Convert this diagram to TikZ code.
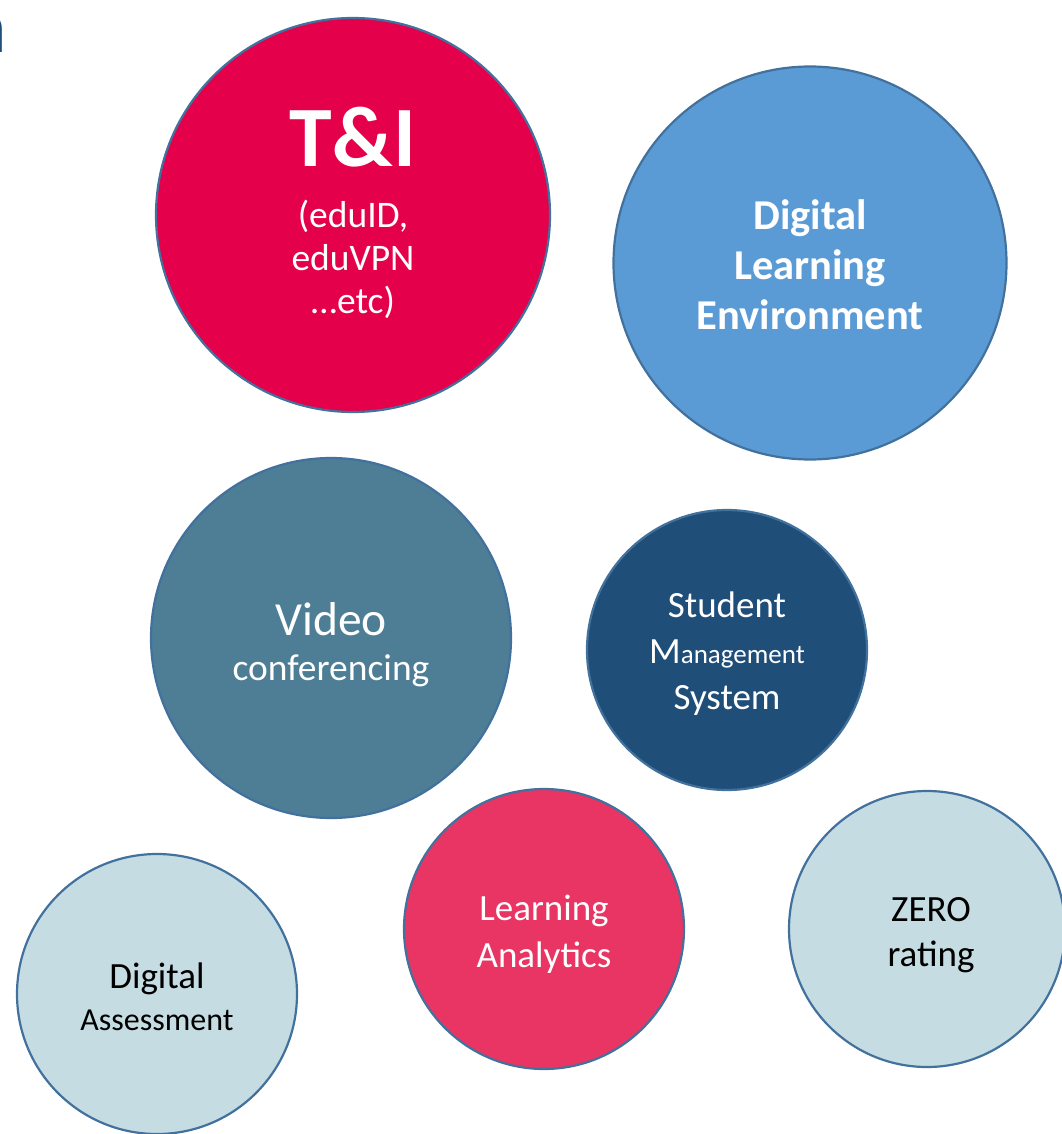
\documentclass[tikz,border=0pt]{standalone}
\usepackage{fontspec}
\setmainfont{Carlito}
\definecolor{tiRed}{HTML}{E4004B}
\definecolor{dleBlue}{HTML}{5B9BD5}
\definecolor{vidTeal}{HTML}{4D7E96}
\definecolor{smsBlue}{HTML}{1F4E79}
\definecolor{laPink}{HTML}{E83563}
\definecolor{lightBlue}{HTML}{C6DCE3}
\definecolor{edge}{HTML}{41719C}
\definecolor{titleBlue}{HTML}{1F4E79}
\newcommand{\fsb}[2]{\fontsize{#1}{#2}\selectfont}
\begin{document}
\begin{tikzpicture}[x=1pt,y=-1pt,
  bub/.style={circle, draw=edge, line width=2.2pt, inner sep=0pt, align=center},
  wtxt/.style={text=white, inner sep=0pt, align=center},
  btxt/.style={text=black, inner sep=0pt, align=center}]
\useasboundingbox (0,0) rectangle (1061,1134);
% clipped title letter
\node[anchor=base east, inner sep=0pt, text=titleBlue, font=\fsb{76}{76}\bfseries] (title) at (6,53) {n};
% circles
\node[bub, fill=tiRed, minimum size=394pt] (ti) at (353,215) {};
\node[bub, fill=dleBlue, minimum size=393pt] (dle) at (810,263) {};
\node[bub, fill=vidTeal, minimum size=360pt] (vid) at (331,638) {};
\node[bub, fill=smsBlue, minimum size=280pt] (sms) at (727,650) {};
\node[bub, fill=laPink, minimum size=280pt] (la) at (544,929) {};
\node[bub, fill=lightBlue, minimum size=276pt] (zero) at (927,929) {};
\node[bub, fill=lightBlue, minimum size=280pt] (da) at (157,994) {};
% texts
\node[wtxt, font=\fsb{86}{100}\bfseries] (tiT) at (353,137) {T\&I};
\node[wtxt, font=\fsb{37.5}{43}] (tiS) at (353,259) {(eduID,\\eduVPN\\\ldots etc)};
\node[wtxt, font=\fsb{42.5}{50}\bfseries] (dleT) at (810,265) {Digital\\Learning\\Environment};
\node[wtxt, font=\fsb{47.5}{50}] (vidT) at (331,619) {Video};
\node[wtxt, font=\fsb{37.5}{45}] (vidS) at (331,671) {conferencing};
\node[wtxt, font=\fsb{37}{46}] (smsT) at (727,654) {Student\\M{\fontsize{27}{30}\selectfont anagement}\\System};
\node[wtxt, font=\fsb{37}{47}] (laT) at (544,934) {Learning\\Analytics};
\node[btxt, font=\fsb{37}{45}] (zeroT) at (931,935) {ZERO\\rating};
\node[btxt, font=\fsb{37}{44}] (daT) at (157,979) {Digital};
\node[btxt, font=\fsb{32}{38}] (daS) at (157,1020) {Assessment};
\end{tikzpicture}
\end{document}
